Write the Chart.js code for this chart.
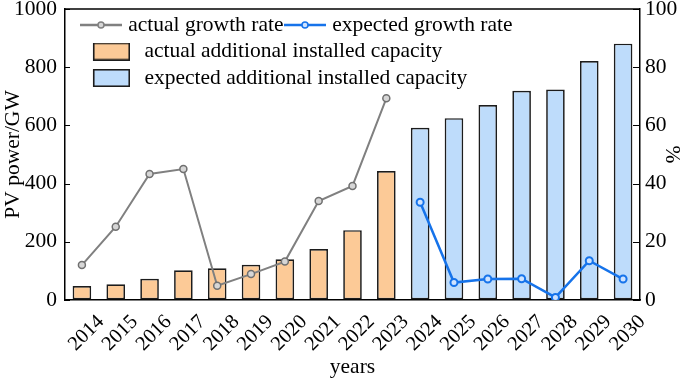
<!DOCTYPE html>
<html>
<head>
<meta charset="utf-8">
<script src="https://cdn.jsdelivr.net/npm/chart.js@4.4.1/dist/chart.umd.min.js"></script>
<style>
  html, body { margin: 0; padding: 0; background: #ffffff; }
  #wrap { width: 685px; height: 378px; position: relative; }
</style>
</head>
<body>
<div id="wrap"><canvas id="c"></canvas></div>
<script>
// ---- data ----
const years = ['2014','2015','2016','2017','2018','2019','2020','2021','2022','2023','2024','2025','2026','2027','2028','2029','2030'];
const actualCapacity   = [48, 54, 73, 102, 109, 121, 140, 175, 240, 443, null, null, null, null, null, null, null];
const expectedCapacity = [null, null, null, null, null, null, null, null, null, null, 592, 625, 670, 719, 723, 821, 881];
const actualGrowth     = [12.0, 25.2, 43.3, 45.0, 4.9, 8.9, 13.2, 34.0, 39.2, 69.3, null, null, null, null, null, null, null];
const expectedGrowth   = [null, null, null, null, null, null, null, null, null, null, 33.6, 6.0, 7.2, 7.3, 0.9, 13.5, 7.2];
const leftTicks  = [0, 200, 400, 600, 800, 1000];
const rightTicks = [0, 20, 40, 60, 80, 100];

const FONT = '"Liberation Serif", "Times New Roman", serif';
const GRAY = '#808080', GRAY_PT = '#d6d6d6';
const BLUE = '#1673ea', BLUE_PT = '#cfe3ff';
const ORANGE = '#fcca97', LBLUE = '#bedcfb', EDGE = '#1c1c1c';

// legend symbols
function lineIcon(color, fill) {
  const c = document.createElement('canvas'); c.width = 42; c.height = 10;
  const x = c.getContext('2d');
  x.strokeStyle = color; x.lineWidth = 2.5;
  x.beginPath(); x.moveTo(0, 5); x.lineTo(42, 5); x.stroke();
  x.beginPath(); x.arc(21, 5, 3, 0, Math.PI * 2); x.fillStyle = fill; x.fill();
  x.lineWidth = 1.5; x.stroke();
  return c;
}
function boxIcon(fill) {
  const c = document.createElement('canvas'); c.width = 58; c.height = 18;
  const x = c.getContext('2d');
  x.fillStyle = fill; x.strokeStyle = EDGE; x.lineWidth = 1.6;
  x.fillRect(21.75, 0.75, 35.5, 16.5); x.strokeRect(21.75, 0.75, 35.5, 16.5);
  return c;
}
const icons = [lineIcon(GRAY, GRAY_PT), lineIcon(BLUE, BLUE_PT), boxIcon(ORANGE), boxIcon(LBLUE)];

const legendInside = {
  id: 'legendInside',
  beforeLayout(chart) {
    const lg = chart.legend;
    if (lg && !lg._patched) {
      const fit = lg.fit;
      lg.fit = function () { fit.call(this); this._realH = this.height; this.height = 0; };
      lg._patched = true;
    }
  },
  afterLayout(chart) {
    const lg = chart.legend, a = chart.chartArea;
    if (!lg) return;
    lg.left = a.left + 14.5;
    lg.right = lg.left + a.width;
    lg.width = lg.right - lg.left;
    lg.top = a.top + 0.25;
    lg.height = lg._realH;
    lg.bottom = lg.top + lg.height;
  }
};
// top frame line + inward tick marks taken from the library's scales
const frameAndTicks = {
  id: 'frameAndTicks',
  afterDatasetsDraw(chart) {
    const a = chart.chartArea, ctx = chart.ctx;
    ctx.save();
    ctx.strokeStyle = '#000'; ctx.lineWidth = 1.5;
    ctx.beginPath(); ctx.moveTo(a.left, a.top); ctx.lineTo(a.right, a.top); ctx.stroke();
    ctx.lineWidth = 1;
    const sy = chart.scales.y, sy1 = chart.scales.y1;
    sy.ticks.forEach(t => {
      const p = Math.round(sy.getPixelForValue(t.value)) + 0.5;
      ctx.beginPath(); ctx.moveTo(a.left, p); ctx.lineTo(a.left + 5, p); ctx.stroke();
    });
    sy1.ticks.forEach(t => {
      const p = Math.round(sy1.getPixelForValue(t.value)) + 0.5;
      ctx.beginPath(); ctx.moveTo(a.right, p); ctx.lineTo(a.right - 7, p); ctx.stroke();
    });
    ctx.restore();
  }
};

Chart.defaults.font.family = FONT;
Chart.defaults.color = '#000';

function noPad(s) { s.paddingTop = 0; s.paddingBottom = 0; }

new Chart(document.getElementById('c'), {
  data: {
    labels: years,
    datasets: [
      { type: 'line', label: 'actual growth rate', data: actualGrowth, yAxisID: 'y1', order: 0,
        borderColor: GRAY, borderWidth: 2, pointRadius: 3.5, pointBorderWidth: 1.5,
        pointBackgroundColor: GRAY_PT, pointBorderColor: '#707070', fill: false, tension: 0 },
      { type: 'line', label: 'expected growth rate', data: expectedGrowth, yAxisID: 'y1', order: 0,
        borderColor: BLUE, borderWidth: 2.5, pointRadius: 3.5, pointBorderWidth: 2,
        pointBackgroundColor: BLUE_PT, pointBorderColor: BLUE, fill: false, tension: 0 },
      { type: 'bar', label: 'actual additional installed capacity', data: actualCapacity, yAxisID: 'y', order: 1,
        backgroundColor: ORANGE, borderColor: EDGE, borderWidth: 1.7, borderSkipped: false,
        grouped: false, categoryPercentage: 1, barPercentage: 0.55 },
      { type: 'bar', label: 'expected additional installed capacity', data: expectedCapacity, yAxisID: 'y', order: 1,
        backgroundColor: LBLUE, borderColor: EDGE, borderWidth: 1.7, borderSkipped: false,
        grouped: false, categoryPercentage: 1, barPercentage: 0.55 }
    ]
  },
  options: {
    responsive: true,
    maintainAspectRatio: false,
    animation: false,
    devicePixelRatio: 1,
    layout: { padding: { top: 9, left: 0, right: 0, bottom: 0 } },
    plugins: {
      tooltip: { enabled: false },
      legend: {
        display: true, position: 'top', align: 'start', fullSize: true,
        labels: {
          font: { family: FONT, size: 21.5 }, color: '#000',
          usePointStyle: true, pointStyleWidth: 33, boxHeight: 17, padding: 5,
          generateLabels(chart) {
            const items = Chart.defaults.plugins.legend.labels.generateLabels(chart);
            items.forEach(it => {
              it.pointStyle = icons[it.datasetIndex];
              if (chart.data.datasets[it.datasetIndex].type === 'bar') it.text = '   ' + it.text;
            });
            return items;
          }
        }
      }
    },
    scales: {
      x: {
        type: 'category', offset: true,
        grid: { display: false },
        border: { display: true, color: '#000', width: 1.5 },
        ticks: { font: { size: 20.5 }, color: '#000', minRotation: 45, maxRotation: 45, autoSkip: false, labelOffset: 19, padding: 2 },
        title: { display: true, text: 'years', font: { size: 21.5 }, color: '#000', padding: { top: 0, bottom: -2 } },
        afterFit(s) { s.height = 78; s.paddingLeft = 0; s.paddingRight = 0; }
      },
      y: {
        position: 'left', min: 0, max: 1000,
        afterBuildTicks(s) { s.ticks = leftTicks.map(v => ({ value: v })); },
        grid: { drawOnChartArea: false, drawTicks: false },
        border: { display: true, color: '#000', width: 1.5 },
        ticks: { font: { size: 21.5 }, color: '#000', padding: 8, callback: v => String(v) },
        title: { display: true, text: 'PV power/GW', font: { size: 21.5 }, color: '#000', padding: { top: 0, bottom: 0 } },
        afterFit(s) { s.width = 65; noPad(s); }
      },
      y1: {
        position: 'right', min: 0, max: 100,
        afterBuildTicks(s) { s.ticks = rightTicks.map(v => ({ value: v })); },
        grid: { drawOnChartArea: false, drawTicks: false },
        border: { display: true, color: '#000', width: 1.5 },
        ticks: { font: { size: 21.5 }, color: '#000', padding: 5, callback: v => String(v) },
        title: { display: true, text: '%', font: { size: 21.5 }, color: '#000', padding: { top: 0, bottom: 0 } },
        afterFit(s) { s.width = 45; noPad(s); }
      }
    }
  },
  plugins: [legendInside, frameAndTicks]
});
</script>
</body>
</html>
